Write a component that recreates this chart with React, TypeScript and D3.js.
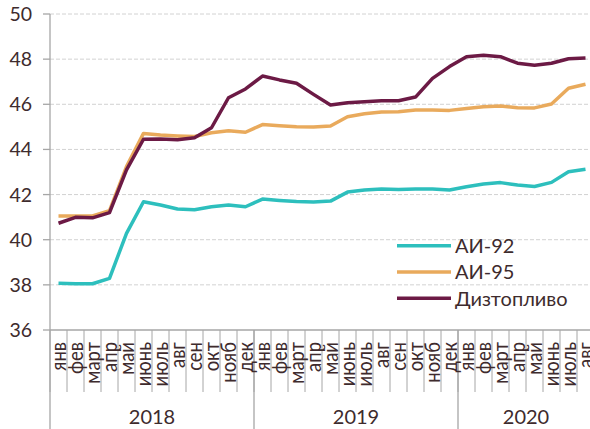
import React from "react";
import * as d3 from "d3";

const months = ["янв", "фев", "март", "апр", "май", "июнь", "июль", "авг", "сен", "окт", "нояб", "дек"];
const years = ["2018", "2019", "2020"];
const monthsPerYear = [12, 12, 8];
const yTicks = [36, 38, 40, 42, 44, 46, 48, 50];

const ai92 = [38.07, 38.05, 38.05, 38.29, 40.28, 41.68, 41.54, 41.36, 41.33, 41.46, 41.54, 41.46,
  41.8, 41.74, 41.69, 41.67, 41.71, 42.11, 42.2, 42.25, 42.22, 42.25, 42.25, 42.2,
  42.35, 42.47, 42.53, 42.42, 42.36, 42.54, 43.01, 43.12];
const ai95 = [41.05, 41.05, 41.05, 41.29, 43.24, 44.71, 44.64, 44.6, 44.57, 44.74, 44.83, 44.76,
  45.1, 45.05, 45.01, 44.99, 45.04, 45.45, 45.58, 45.66, 45.67, 45.75, 45.75, 45.73,
  45.81, 45.89, 45.92, 45.85, 45.84, 46.01, 46.71, 46.89];
const diesel = [40.73, 40.99, 40.97, 41.2, 43.09, 44.45, 44.46, 44.43, 44.52, 44.96, 46.29, 46.68,
  47.25, 47.08, 46.93, 46.44, 45.97, 46.07, 46.11, 46.16, 46.16, 46.32, 47.15, 47.67,
  48.11, 48.17, 48.11, 47.82, 47.73, 47.82, 48.02, 48.05];

const seriesNames = ["АИ-92", "АИ-95", "Дизтопливо"];
const seriesColors = ["#2dbfbd", "#e9aa5c", "#6c1a45"];

export default function App() {
  const W = 590, H = 429;
  const left = 50, right = 594, top = 14, bottom = 330;
  const font = "Lato, 'Open Sans', sans-serif";
  const textColor = "#3e2b2d";
  const axisColor = "#a6a6a6";

  const labels: { m: string; y: number; i: number }[] = [];
  let idx = 0;
  years.forEach((yr, yi) => {
    for (let k = 0; k < monthsPerYear[yi]; k++) {
      labels.push({ m: months[k], y: yi, i: idx });
      idx++;
    }
  });
  const keys = labels.map((d) => String(d.i));
  const x = d3.scaleBand<string>().domain(keys).range([left, right]).padding(0);
  const y = d3.scaleLinear().domain([36, 50]).range([bottom, top]);
  const bw = x.bandwidth();
  const cx = (i: number) => (x(String(i)) as number) + bw / 2;

  const line = d3
    .line<number>()
    .x((_, i) => cx(i))
    .y((v) => y(v));

  const allSeries = [ai92, ai95, diesel];

  const yearStarts: number[] = [];
  let acc = 0;
  monthsPerYear.forEach((n) => {
    yearStarts.push(acc);
    acc += n;
  });

  return (
    <svg width={W} height={H} style={{ position: "absolute", left: 0, top: 0 }} fontFamily={font}>
      <rect width={W} height={H} fill="#fff" />
      {yTicks.filter((t) => t !== 36).map((t) => (
        <line key={t} x1={left} x2={right} y1={y(t)} y2={y(t)} stroke="#d2d2d2" strokeWidth={1} strokeDasharray="4 2" />
      ))}
      <line x1={left} x2={left} y1={top} y2={H} stroke={axisColor} strokeWidth={1.3} />
      {yTicks.map((t) => (
        <g key={t}>
          <line x1={left - 7} x2={left} y1={y(t)} y2={y(t)} stroke={axisColor} strokeWidth={1.3} />
          <text x={32} y={y(t)} dy="0.36em" textAnchor="end" fontSize={19.5} fill={textColor}>
            {t}
          </text>
        </g>
      ))}
      <line x1={left} x2={right} y1={bottom} y2={bottom} stroke={axisColor} strokeWidth={1.3} />
      {labels.map((d) => (
        <line key={"t" + d.i} x1={x(String(d.i))} x2={x(String(d.i))} y1={bottom} y2={392} stroke={axisColor} strokeWidth={1} />
      ))}
      {yearStarts.map((s, yi) =>
        s === 0 ? null : (
          <line key={"ys" + yi} x1={x(String(s))} x2={x(String(s))} y1={bottom} y2={H} stroke={axisColor} strokeWidth={1.3} />
        )
      )}
      {labels.map((d) => (
        <text
          key={"m" + d.i}
          transform={`translate(${cx(d.i) + 7.5},342) rotate(-90) scale(0.88,1)`}
          textAnchor="end"
          fontSize={21}
          fill={textColor}
        >
          {d.m}
        </text>
      ))}
      {years.map((yr, yi) => {
        const s = yearStarts[yi];
        const e = s + monthsPerYear[yi];
        const x0 = x(String(s)) as number;
        const x1 = (x(String(e - 1)) as number) + bw;
        return (
          <text key={yr} x={(x0 + x1) / 2} y={424} textAnchor="middle" fontSize={20} fill={textColor}>
            {yr}
          </text>
        );
      })}
      {allSeries.map((s, si) => (
        <path key={si} d={line(s) || ""} fill="none" stroke={seriesColors[si]} strokeWidth={3.5} strokeLinejoin="round" strokeLinecap="butt" />
      ))}
      {seriesNames.map((n, i) => (
        <g key={n} transform={`translate(397,${245.7 + i * 26.3})`}>
          <line x1={0} x2={54} y1={0} y2={0} stroke={seriesColors[i]} strokeWidth={3.5} />
          <text x={58} y={0} dy="0.36em" fontSize={20} fill={textColor}>
            {n}
          </text>
        </g>
      ))}
    </svg>
  );
}
